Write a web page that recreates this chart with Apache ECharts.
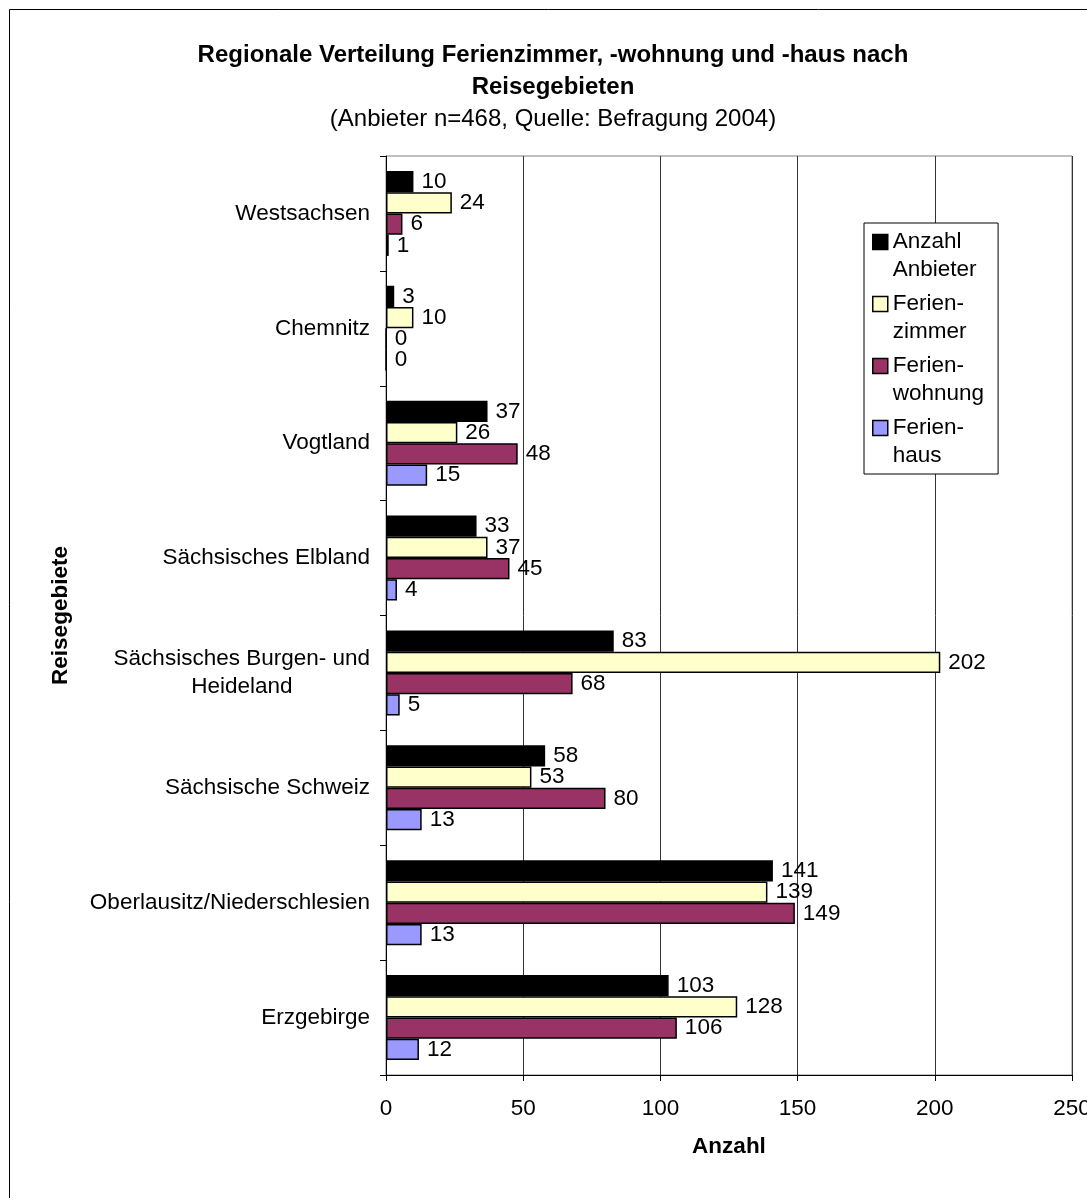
<!DOCTYPE html>
<html>
<head>
<meta charset="utf-8">
<script src="https://cdn.jsdelivr.net/npm/echarts@6/dist/echarts.min.js"></script>
<style>
  html, body { margin: 0; padding: 0; background: #fff; }
  #chart { width: 1087px; height: 1198px; }
</style>
</head>
<body>
<div id="chart"></div>
<script>
// Reisegebiete (top to bottom)
const regions = [
  'Westsachsen',
  'Chemnitz',
  'Vogtland',
  'Sächsisches Elbland',
  'Sächsisches Burgen- und\nHeideland',
  'Sächsische Schweiz',
  'Oberlausitz/Niederschlesien',
  'Erzgebirge'
];

const seriesNames = ['Anzahl Anbieter', 'Ferienzimmer', 'Ferienwohnung', 'Ferienhaus'];
const legendLabels = ['Anzahl\nAnbieter', 'Ferien-\nzimmer', 'Ferien-\nwohnung', 'Ferien-\nhaus'];

const anbieter      = [10, 3, 37, 33, 83, 58, 141, 103];
const ferienzimmer  = [24, 10, 26, 37, 202, 53, 139, 128];
const ferienwohnung = [6, 0, 48, 45, 68, 80, 149, 106];
const ferienhaus    = [1, 0, 15, 4, 5, 13, 13, 12];

const seriesValues = [anbieter, ferienzimmer, ferienwohnung, ferienhaus];
const seriesColors = ['#000000', '#FFFFCC', '#993366', '#9999FF'];

const FONT = '"Liberation Sans", Arial, sans-serif';
const FS = 22.5;
const FS_TITLE = 24;

const chart = echarts.init(document.getElementById('chart'));

const option = {
  backgroundColor: '#ffffff',
  animation: false,
  textStyle: { fontFamily: FONT, color: '#000' },
  graphic: [{
    type: 'rect',
    shape: { x: 9.5, y: 9.5, width: 1200, height: 1300 },
    style: { fill: 'none', stroke: '#000', lineWidth: 1 },
    silent: true,
    z: -10
  }],
  title: {
    text: 'Regionale Verteilung Ferienzimmer, -wohnung und -haus nach\nReisegebieten',
    subtext: '(Anbieter n=468, Quelle: Befragung 2004)',
    left: 553,
    textAlign: 'center',
    top: 39,
    itemGap: 3,
    padding: 0,
    textStyle: { fontFamily: FONT, fontSize: FS_TITLE, fontWeight: 'bold', color: '#000', lineHeight: 32 },
    subtextStyle: { fontFamily: FONT, fontSize: FS_TITLE, color: '#000', lineHeight: 26 }
  },
  legend: {
    orient: 'vertical',
    left: 864,
    top: 223,
    padding: [5, 14, 4, 8],
    itemGap: 6,
    itemWidth: 15,
    itemHeight: 43,
    icon: 'path://M0,0h15v15h-15z M0,43L0.01,43',
    borderColor: '#000',
    borderWidth: 1,
    backgroundColor: '#fff',
    selectedMode: false,
    itemStyle: { borderColor: '#000', borderWidth: 1.5 },
    textStyle: { fontFamily: FONT, fontSize: FS, color: '#000', lineHeight: 28 },
    formatter: name => legendLabels[seriesNames.indexOf(name)],
    data: seriesNames
  },
  grid: {
    left: 386,
    right: 15,
    top: 156,
    bottom: 123,
    show: true,
    borderColor: '#808080',
    borderWidth: 1,
    backgroundColor: 'transparent',
    containLabel: false,
    outerBoundsMode: 'none'
  },
  xAxis: {
    type: 'value',
    min: 0,
    max: 250,
    interval: 50,
    name: 'Anzahl',
    nameLocation: 'middle',
    nameGap: 60,
    nameTextStyle: { fontFamily: FONT, fontSize: FS, fontWeight: 'bold', color: '#000' },
    axisLine: { show: true, lineStyle: { color: '#000', width: 1 } },
    axisTick: { show: true, length: 6, lineStyle: { color: '#000' } },
    axisLabel: { fontFamily: FONT, fontSize: FS, color: '#000', margin: 22 },
    splitLine: { show: true, lineStyle: { color: '#333333', width: 1 } }
  },
  yAxis: {
    type: 'category',
    inverse: true,
    data: regions,
    name: 'Reisegebiete',
    nameLocation: 'middle',
    nameRotate: 90,
    nameGap: 314,
    nameTextStyle: { fontFamily: FONT, fontSize: FS, fontWeight: 'bold', color: '#000' },
    axisLine: { show: true, lineStyle: { color: '#000', width: 1 } },
    axisTick: { show: true, length: 6, alignWithLabel: false, lineStyle: { color: '#000' } },
    axisLabel: {
      fontFamily: FONT,
      fontSize: FS,
      color: '#000',
      margin: 16,
      lineHeight: 28,
      formatter: v => v.split('\n').map(s => '{c|' + s + '}').join('\n'),
      rich: { c: { align: 'center', fontFamily: FONT, fontSize: FS, color: '#000', lineHeight: 28 } }
    },
    splitLine: { show: false }
  },
  series: seriesNames.map((name, i) => ({
    name: name,
    type: 'bar',
    data: seriesValues[i],
    barGap: '0%',
    barCategoryGap: '26%',
    itemStyle: { color: seriesColors[i], borderColor: '#000', borderWidth: 1.5 },
    label: {
      show: true,
      position: 'right',
      distance: 8,
      fontFamily: FONT,
      fontSize: FS,
      color: '#000'
    },
    emphasis: { disabled: true }
  }))
};

chart.setOption(option);
</script>
</body>
</html>
